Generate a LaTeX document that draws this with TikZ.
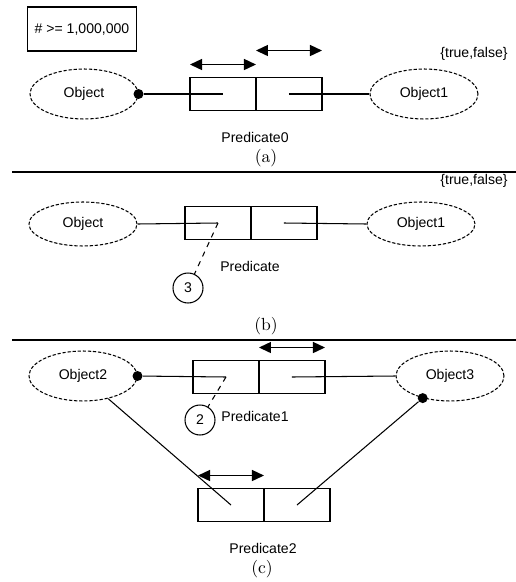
\documentclass[tikz,border=0pt]{standalone}
\usepackage{fontspec}
\newfontfamily\arialfont{Liberation Sans}
\usetikzlibrary{positioning,shapes.geometric,arrows.meta,backgrounds}

\tikzset{
  obj/.style={ellipse, draw, dashed, dash pattern=on 1.8pt off 1.1pt, fill=white,
              minimum width=2.16cm, minimum height=1cm, inner sep=0pt},
  cell/.style={rectangle, draw, fill=white, minimum width=1.32cm, minimum height=0.66cm,
               inner sep=0pt, outer sep=0pt},
  note/.style={rectangle, draw, fill=white, minimum width=2.18cm, minimum height=0.88cm},
  dot/.style={circle, fill=black, inner sep=0pt, minimum size=0.2cm},
  card/.style={circle, draw, fill=white, minimum size=0.6cm, inner sep=0pt},
  twoway/.style={{Triangle[length=0.24cm,width=0.22cm]}-{Triangle[length=0.24cm,width=0.22cm]}, line width=0.8pt},
  caption/.style={font=\rmfamily\fontsize{10}{12}\selectfont},
  sep/.style={line width=1.1pt},
  sdw/.style={fill=black!42, shift={(0.07cm,-0.07cm)}}
}

\begin{document}
\begin{tikzpicture}[x=0.02cm, y=-0.02cm, line width=0.6pt,
    font=\arialfont\fontsize{8}{9.6}\selectfont]
  \useasboundingbox (0,0) rectangle (516,582);

  % (a)
  \node[note] (limit) at (82,29) {\# >= 1,000,000};
  \node[obj] (obja) at (84,94) {Object};
  \node[obj] (objonea) at (424,94) {Object1};
  \node[cell] (pzl) at (223,94) {};
  \node[cell, right=0pt of pzl] (pzr) {};
  \node[dot] (dota) at (obja.east) {};
  \draw (dota) -- (pzl.center);
  \draw (pzr.center) -- (objonea.west);
  \draw[twoway] ([yshift=0.26cm]pzl.north west) -- ([yshift=0.26cm]pzl.north east);
  \draw[twoway] ([yshift=0.54cm]pzr.north west) -- ([yshift=0.54cm]pzr.north east);
  \node (tfa) at (474,54) {\{true,false\}};
  \node (pzero) at (255,137) {Predicate0};
  \node[caption] (capa) at (266,158) {(a)};
  \draw[sep] (12,172) -- (516,172);

  % (b)
  \node (tfb) at (474,181) {\{true,false\}};
  \node[obj, minimum height=0.88cm] (objb) at (83,224) {Object};
  \node[obj, minimum height=0.88cm] (objoneb) at (421,224) {Object1};
  \node[cell] (pl) at (218,223) {};
  \node[cell, right=0pt of pl] (pr) {};
  \draw (objb.east) -- (pl.center);
  \draw (pr.center) -- (objoneb.west);
  \node[card] (three) at (188,288) {3};
  \draw[dashed] (pl.center) -- (three);
  \node (pred) at (250,266) {Predicate};
  \node[caption] (capb) at (266,326) {(b)};
  \draw[sep] (12,340) -- (516,340);

  % (c)
  \node[obj] (objtwo) at (83,376) {Object2};
  \node[obj] (objthree) at (450,376) {Object3};
  \node[cell] (pol) at (226,377) {};
  \node[cell, right=0pt of pol] (por) {};
  \node[cell] (ptl) at (231,505) {};
  \node[cell, right=0pt of ptl] (ptr) {};
  \node[dot] (dotc) at (objtwo.east) {};
  \node[dot] (dotd) at (objthree.219) {};
  \draw (dotc) -- (pol.center);
  \draw (por.center) -- (objthree.west);
  \draw (objtwo.318) -- (ptl.center);
  \draw (dotd) -- (ptr.center);
  \draw[twoway] ([yshift=0.26cm]por.north west) -- ([yshift=0.26cm]por.north east);
  \draw[twoway] ([yshift=0.26cm]ptl.north west) -- ([yshift=0.26cm]ptl.north east);
  \node[card] (two) at (200,420) {2};
  \draw[dashed] (pol.center) -- (two);
  \node (predone) at (255,416) {Predicate1};
  \node (predtwo) at (263,548) {Predicate2};
  \node[caption] (capc) at (262,569) {(c)};

  % shadows
  \begin{scope}[on background layer]
    \fill[sdw] (limit.south west) rectangle (limit.north east);
    \fill[sdw] (pzl.south west) rectangle (pzr.north east);
    \fill[sdw] (pl.south west) rectangle (pr.north east);
    \fill[sdw] (pol.south west) rectangle (por.north east);
    \fill[sdw] (ptl.south west) rectangle (ptr.north east);
    \foreach \o in {obja,objonea,objtwo,objthree}
      \fill[sdw] (\o.center) ellipse [x radius=1.08cm, y radius=0.5cm];
    \foreach \o in {objb,objoneb}
      \fill[sdw] (\o.center) ellipse [x radius=1.08cm, y radius=0.44cm];
  \end{scope}
\end{tikzpicture}
\end{document}
